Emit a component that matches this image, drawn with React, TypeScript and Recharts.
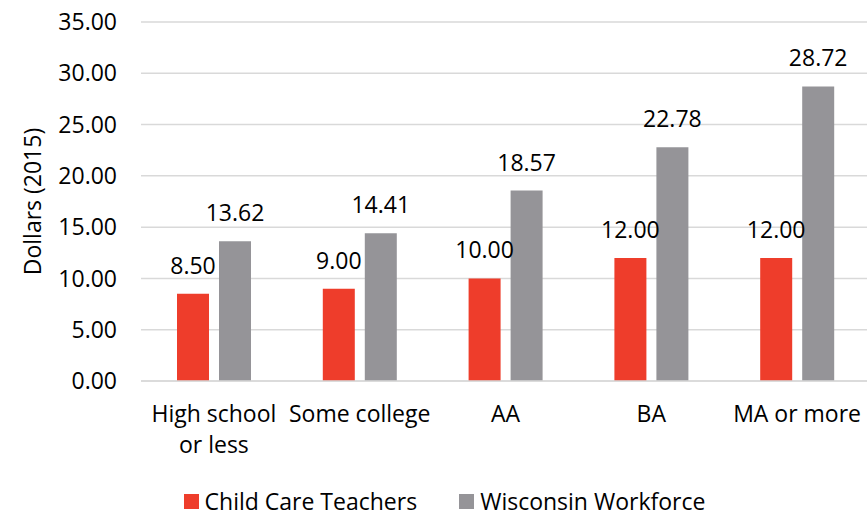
import React from "react";
import { BarChart, Bar, XAxis, YAxis, CartesianGrid, LabelList, Legend } from "recharts";

const categories = ["High school or less", "Some college", "AA", "BA", "MA or more"];
const childCareTeachers = [8.5, 9.0, 10.0, 12.0, 12.0];
const wisconsinWorkforce = [13.62, 14.41, 18.57, 22.78, 28.72];
const yTicks = [0, 5, 10, 15, 20, 25, 30, 35];
const seriesNames = ["Child Care Teachers", "Wisconsin Workforce"];

const RED = "#EE3D2B";
const GRAY = "#959498";
const FONT = "'Open Sans', sans-serif";
const FS = 23;

const data = categories.map((c, i) => ({
  category: c,
  cct: childCareTeachers[i],
  ww: wisconsinWorkforce[i],
}));

function wrap(text: string, maxChars: number): string[] {
  const words = text.split(" ");
  const lines: string[] = [];
  let cur = "";
  for (const w of words) {
    const next = cur ? cur + " " + w : w;
    if (next.length > maxChars && cur) {
      lines.push(cur);
      cur = w;
    } else cur = next;
  }
  if (cur) lines.push(cur);
  return lines;
}

const XTick = (props: any) => {
  const { x, y, payload } = props;
  const lines = wrap(String(payload.value), 12);
  return (
    <text x={x} y={y} textAnchor="middle" fontFamily={FONT} fontSize={FS} fill="#000">
      {lines.map((l, i) => (
        <tspan key={i} x={x} dy={i === 0 ? 41 : 31}>
          {l}
        </tspan>
      ))}
    </text>
  );
};

const YLabel = (props: any) => {
  const vb = props.viewBox || { x: 0, y: 0, width: 0, height: 0 };
  const cx = 32;
  const cy = vb.y + vb.height / 2;
  return (
    <text
      x={cx}
      y={cy}
      transform={`rotate(-90, ${cx}, ${cy})`}
      textAnchor="middle"
      dominantBaseline="central"
      fontFamily={FONT}
      fontSize={FS}
      fill="#000"
    >
      Dollars (2015)
    </text>
  );
};

const LegendContent = () => {
  const colors = [RED, GRAY];
  return (
    <div
      style={{
        display: "flex",
        justifyContent: "center",
        gap: 42,
        paddingLeft: 18,
        fontFamily: FONT,
        fontSize: FS,
        color: "#000",
        lineHeight: "31px",
        height: 31,
        whiteSpace: "nowrap",
      }}
    >
      {seriesNames.map((n, i) => (
        <div key={n} style={{ display: "flex", alignItems: "center" }}>
          <span style={{ display: "inline-block", width: 15, height: 15, background: colors[i], marginRight: 6 }} />
          <span>{n}</span>
        </div>
      ))}
    </div>
  );
};

export default function App() {
  return (
    <div style={{ position: "absolute", left: 0, top: 0 }}>
      <BarChart
        width={871}
        height={517}
        data={data}
        margin={{ top: 22, right: 1, bottom: 0, left: 0 }}
        barSize={32}
        barGap={10}
        barCategoryGap={36}
      >
        <CartesianGrid vertical={false} stroke="#D9D9D9" strokeWidth={1.5} />
        <XAxis
          dataKey="category"
          axisLine={{ stroke: "#D9D9D9", strokeWidth: 1.5 }}
          tickLine={false}
          tickSize={0}
          tickMargin={0}
          height={105}
          interval={0}
          tick={<XTick />}
        />
        <YAxis
          width={141}
          domain={[0, 35]}
          ticks={yTicks}
          axisLine={false}
          tickLine={false}
          tickSize={0}
          tickMargin={24}
          tickFormatter={(v: number) => v.toFixed(2)}
          tick={{ fontFamily: FONT, fontSize: FS, fill: "#000" }}
          label={<YLabel />}
        />
        <Legend
          content={<LegendContent />}
          wrapperStyle={{ position: "absolute", top: 486, left: 0, width: 871, height: 31 }}
        />
        <Bar dataKey="cct" name={seriesNames[0]} fill={RED} isAnimationActive={false}>
          <LabelList
            dataKey="cct"
            position="top"
            offset={20}
            formatter={(v: any) => Number(v).toFixed(2)}
            style={{ fontFamily: FONT, fontSize: FS, fill: "#000" }}
          />
        </Bar>
        <Bar dataKey="ww" name={seriesNames[1]} fill={GRAY} isAnimationActive={false}>
          <LabelList
            dataKey="ww"
            position="top"
            offset={20}
            formatter={(v: any) => Number(v).toFixed(2)}
            style={{ fontFamily: FONT, fontSize: FS, fill: "#000" }}
          />
        </Bar>
      </BarChart>
    </div>
  );
}
